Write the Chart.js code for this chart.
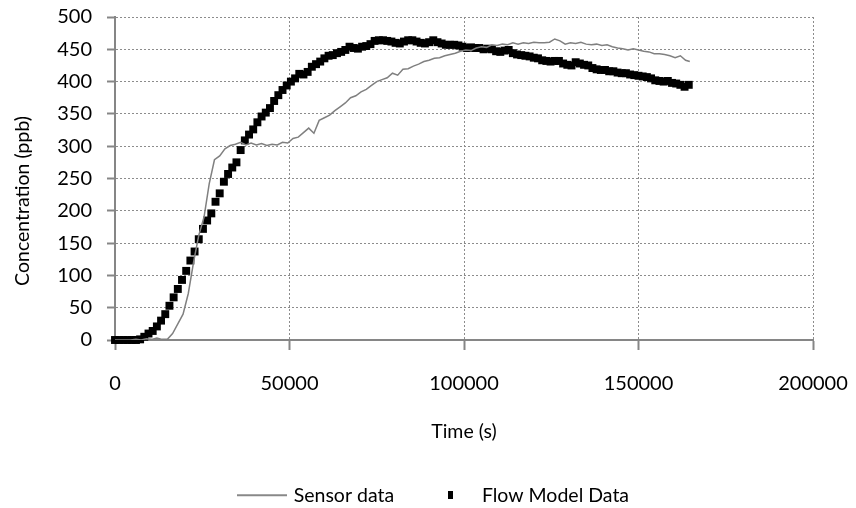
<!DOCTYPE html>
<html>
<head>
<meta charset="utf-8">
<script src="https://cdn.jsdelivr.net/npm/chart.js@4.4.1/dist/chart.umd.min.js"></script>
<style>
  html, body { margin: 0; padding: 0; background: #fff; }
</style>
</head>
<body>
<canvas id="myChart" width="856" height="508"></canvas>
<script>
// sensor trace (time in s, concentration in ppb)
const sensorTime = [0,1500,3000,4500,6000,7500,9000,10500,12000,13500,
  15000,16500,18000,19500,21000,22500,24000,25500,27000,28500,
  30000,31500,33000,34500,36000,37500,39000,40500,42000,43500,
  45000,46500,48000,49500,51000,52500,54000,55500,57000,58500,
  60000,61500,63000,64500,66000,67500,69000,70500,72000,73500,
  75000,76500,78000,79500,81000,82500,84000,85500,87000,88500,
  90000,91500,93000,94500,96000,97500,99000,100500,102000,103500,
  105000,106500,108000,109500,111000,112500,114000,115500,117000,118500,
  120000,121500,123000,124500,126000,127500,129000,130500,132000,133500,
  135000,136500,138000,139500,141000,142500,144000,145500,147000,148500,
  150000,151500,153000,154500,156000,157500,159000,160500,162000,163500,
  164700]
const sensorConc = [0,0,0,0,1,0,2,1,3,1,
  1,10,25,40,72,120,162,190,242,279,
  285,296,301,303,306,302,305,302,304,301,
  303,302,306,305,312,314,321,328,320,340,
  344,348,355,361,367,375,378,384,388,394,
  400,403,406,413,410,419,420,424,427,431,
  433,436,437,440,442,444,447,449,448,452,
  454,453,457,456,458,457,460,458,460,459,
  461,460,460,461,466,463,458,460,459,461,
  458,457,458,456,457,454,452,451,449,451,
  449,447,446,443,443,442,440,437,440,433,
  431]

// flow model output
const modelTime = [0,1200,2400,3600,4800,6000,7200,8400,9600,10800,
  12000,13200,14400,15600,16800,18000,19200,20400,21600,22800,
  24000,25200,26400,27600,28800,30000,31200,32400,33600,34800,
  36000,37200,38400,39600,40800,42000,43200,44400,45600,46800,
  48000,49200,50400,51600,52800,54000,55200,56400,57600,58800,
  60000,61200,62400,63600,64800,66000,67200,68400,69600,70800,
  72000,73200,74400,75600,76800,78000,79200,80400,81600,82800,
  84000,85200,86400,87600,88800,90000,91200,92400,93600,94800,
  96000,97200,98400,99600,100800,102000,103200,104400,105600,106800,
  108000,109200,110400,111600,112800,114000,115200,116400,117600,118800,
  120000,121200,122400,123600,124800,126000,127200,128400,129600,130800,
  132000,133200,134400,135600,136800,138000,139200,140400,141600,142800,
  144000,145200,146400,147600,148800,150000,151200,152400,153600,154800,
  156000,157200,158400,159600,160800,162000,163200,164400]
const modelConc = [0,0,0,0,0,0,1,5,10,14,
  21,30,40,53,66,79,93,107,123,137,
  156,172,185,196,214,227,245,257,267,275,
  294,309,318,326,337,346,352,359,370,379,
  387,394,400,405,412,411,415,423,427,431,
  436,440,441,444,446,449,454,452,451,454,
  455,458,463,464,464,463,462,460,459,462,
  464,464,462,460,459,461,464,461,459,457,
  457,457,456,454,452,453,452,452,450,451,
  450,447,446,448,449,444,442,441,440,439,
  437,436,433,432,431,432,432,428,426,425,
  430,428,426,425,421,419,418,418,416,416,
  414,413,413,411,410,409,408,407,405,402,
  401,400,401,398,397,395,392,395]

const xTicks = [0, 50000, 100000, 150000, 200000]
const yTicks = [0, 50, 100, 150, 200, 250, 300, 350, 400, 450, 500]

const tickFont = { family: 'Lato', size: 20 }
const textFont = { family: 'Lato', size: 19.5 }

function toPoints(xs, ys) {
  return xs.map((x, i) => ({ x: x, y: ys[i] }))
}

function legendLine() {
  const c = document.createElement('canvas')
  c.width = 50; c.height = 4
  const g = c.getContext('2d')
  g.strokeStyle = '#888'
  g.lineWidth = 2
  g.beginPath(); g.moveTo(0, 2); g.lineTo(50, 2); g.stroke()
  return c
}

function legendSquare() {
  const c = document.createElement('canvas')
  c.width = 5; c.height = 8
  const g = c.getContext('2d')
  g.fillStyle = '#000'
  g.fillRect(0, 0, 5, 8)
  return c
}

const lineImg = legendLine()
const squareImg = legendSquare()

// the legend sits a bit right of the canvas centre in the original
const legendShift = {
  id: 'legendShift',
  afterLayout(chart) {
    chart.legend.left += 28
    chart.legend.right += 28
  }
}

// trailing no-break spaces push the rotated y title down a little
const yTitle = 'Concentration (ppb)' + '\u00a0'.repeat(9)

new Chart(document.getElementById('myChart'), {
  type: 'scatter',
  data: {
    datasets: [{
      label: 'Sensor data',
      data: toPoints(sensorTime, sensorConc),
      showLine: true,
      borderColor: '#808080',
      borderWidth: 1.5,
      pointRadius: 0,
      tension: 0
    }, {
      label: 'Flow Model Data',
      data: toPoints(modelTime, modelConc),
      showLine: false,
      pointStyle: 'rect',
      pointRadius: 5.6,
      backgroundColor: '#000',
      borderColor: '#000',
      borderWidth: 0,
      clip: false
    }]
  },
  options: {
    responsive: false,
    animation: false,
    devicePixelRatio: 1,
    layout: { padding: { left: 0, right: 43, top: 17, bottom: -7 } },
    plugins: {
      tooltip: { enabled: false },
      legend: {
        position: 'bottom',
        labels: {
          font: textFont,
          color: '#000',
          usePointStyle: true,
          pointStyleWidth: 44,
          padding: 34,
          generateLabels(chart) {
            const items = Chart.defaults.plugins.legend.labels.generateLabels(chart)
            items[0].pointStyle = lineImg
            items[1].pointStyle = squareImg
            return items
          }
        }
      }
    },
    scales: {
      x: {
        type: 'linear',
        min: 0,
        max: 200000,
        afterFit(scale) {
          scale.height = 111.5
          scale.paddingLeft = 0
          scale.paddingRight = 0
        },
        afterBuildTicks(scale) { scale.ticks = xTicks.map(v => ({ value: v })) },
        ticks: { font: tickFont, color: '#000', padding: 22, maxRotation: 0, callback: v => String(v) },
        grid: { color: '#8c8c8c', lineWidth: 1, tickLength: 10, tickColor: '#868686', tickWidth: 2 },
        border: { display: true, color: '#868686', width: 2, dash: [2, 2] },
        title: { display: true, text: 'Time (s)', font: textFont, color: '#000', padding: { top: 0, bottom: 8.5 } }
      },
      y: {
        min: 0,
        max: 500,
        afterFit(scale) {
          scale.width = 115
          scale.paddingTop = 0
          scale.paddingBottom = 0
        },
        afterBuildTicks(scale) { scale.ticks = yTicks.map(v => ({ value: v })) },
        ticks: { font: tickFont, color: '#000', padding: 15 },
        grid: { color: '#8c8c8c', lineWidth: 1, tickLength: 8, tickColor: '#868686', tickWidth: 2 },
        border: { display: true, color: '#868686', width: 2, dash: [2, 2] },
        title: { display: true, text: yTitle, font: textFont, color: '#000', padding: { top: 11, bottom: 0 } }
      }
    }
  },
  plugins: [legendShift]
})
</script>
</body>
</html>
